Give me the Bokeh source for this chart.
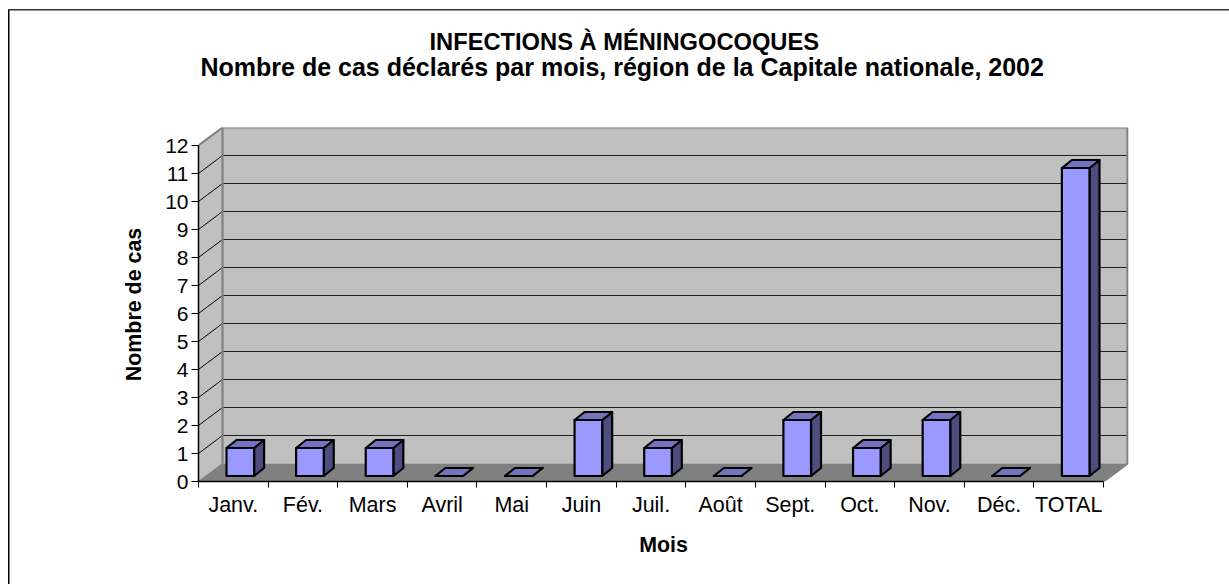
from bokeh.plotting import figure
from bokeh.models import Range1d, FixedTicker, Title, ColumnDataSource
from bokeh.embed import file_html
from bokeh.resources import INLINE

TITLE_LINES = ["INFECTIONS À MÉNINGOCOQUES",
               "Nombre de cas déclarés par mois, région de la Capitale nationale, 2002"]
CATEGORIES = ["Janv.", "Fév.", "Mars", "Avril", "Mai", "Juin", "Juil.", "Août",
              "Sept.", "Oct.", "Nov.", "Déc.", "TOTAL"]
VALUES = [1, 1, 1, 0, 0, 2, 1, 0, 2, 1, 2, 0, 11]
Y_TICKS = list(range(0, 13))

FONT = "Liberation Sans"
N = len(CATEGORIES)
YMAX = Y_TICKS[-1]

# pixel scale of the front plane
PX_X = 905 / N
PX_Y = 28
# oblique depth of the chart box, in data units
DX = 24 / PX_X
DY = 18 / PX_Y
# bar placement in data units
BAR_L = 28 / PX_X
BAR_W = 27.6 / PX_X
BAR_DX = 10 / PX_X
BAR_DY = 8 / PX_Y
BAR_BASE = 5.5 / PX_Y

p = figure(width=1229, height=584, output_backend="svg", toolbar_location=None,
           x_range=Range1d(0, 930 / PX_X), y_range=Range1d(0, 354 / PX_Y),
           frame_width=930, frame_height=354,
           min_border_left=198, min_border_right=101, min_border_top=127, min_border_bottom=103)
p.outline_line_color = None
p.background_fill_color = "white"
p.border_fill_color = None
p.grid.visible = False
# chart-area frame: left and top edges only
p.styles = {"background":
            "linear-gradient(#333,#333) 8px 9px / 100% 1.5px no-repeat,"
            "linear-gradient(#000,#000) 8px 9px / 1.5px 100% no-repeat"}

# chart box
p.patch([0, DX, DX, 0], [0, DY, YMAX + DY, YMAX], fill_color="#c0c0c0", line_color="#808080", line_width=1)
p.patch([DX, N + DX, N + DX, DX], [DY, DY, YMAX + DY, YMAX + DY], fill_color="#c0c0c0", line_color=None)
p.patch([0, N, N + DX, DX], [0, 0, DY, DY], fill_color="#808080", line_color=None)

# gridlines
grid = [v for v in Y_TICKS if 0 < v < YMAX]
p.multi_line([[DX, N + DX] for v in grid], [[v + DY, v + DY] for v in grid], line_color="#202020", line_width=1.2)
p.multi_line([[0, DX] for v in grid], [[v, v + DY] for v in grid], line_color="#000000", line_width=1)
# wall edges
p.line([DX, DX, N + DX, N + DX, N], [DY, YMAX + DY, YMAX + DY, DY, 0], line_color="#808080", line_width=2.2)
p.line([0, DX], [YMAX, YMAX + DY], line_color="#808080", line_width=2)

# bars
lefts = [i + BAR_L for i in range(N)]
front = ColumnDataSource(dict(
    xs=[[l, l + BAR_W, l + BAR_W, l] for l in lefts],
    ys=[[BAR_BASE, BAR_BASE, BAR_BASE + v, BAR_BASE + v] for v in VALUES]))
side = ColumnDataSource(dict(
    xs=[[l + BAR_W, l + BAR_W + BAR_DX, l + BAR_W + BAR_DX, l + BAR_W] for l in lefts],
    ys=[[BAR_BASE, BAR_BASE + BAR_DY, BAR_BASE + BAR_DY + v, BAR_BASE + v] for v in VALUES]))
top = ColumnDataSource(dict(
    xs=[[l, l + BAR_W, l + BAR_W + BAR_DX, l + BAR_DX] for l in lefts],
    ys=[[BAR_BASE + v, BAR_BASE + v, BAR_BASE + v + BAR_DY, BAR_BASE + v + BAR_DY] for v in VALUES]))
p.patches("xs", "ys", source=side, fill_color="#4d4d80", line_color="black", line_width=2.2, line_join="round")
p.patches("xs", "ys", source=front, fill_color="#9999ff", line_color="black", line_width=2.2, line_join="round")
p.patches("xs", "ys", source=top, fill_color="#7373bf", line_color="black", line_width=2.2, line_join="round")

# axes
xa = p.xaxis[0]
xa.bounds = (0, N)
xa.ticker = FixedTicker(ticks=[i + 0.5 for i in range(N)], minor_ticks=list(range(N + 1)))
xa.major_label_overrides = {i + 0.5: c for i, c in enumerate(CATEGORIES)}
xa.major_tick_line_color = None
xa.major_tick_out = 0
xa.major_tick_in = 0
xa.minor_tick_line_color = "black"
xa.minor_tick_out = 6
xa.minor_tick_in = 0
xa.axis_label = "Mois"
xa.axis_label_standoff = 13
xa.major_label_standoff = 5
xa.major_label_text_font_size = "21.5px"

ya = p.yaxis[0]
ya.bounds = (0, YMAX)
ya.ticker = FixedTicker(ticks=Y_TICKS, minor_ticks=[])
ya.major_tick_line_color = "black"
ya.major_tick_out = 7
ya.major_tick_in = 0
ya.axis_label = "Nombre de cas"
ya.axis_label_standoff = 16
ya.major_label_standoff = 3
ya.major_label_text_font_size = "21px"

for a in (xa, ya):
    a.axis_line_color = "black"
    a.axis_line_width = 1.5
    a.major_label_text_font = FONT
    a.major_label_text_color = "black"
    a.axis_label_text_font = FONT
    a.axis_label_text_font_size = "21.4px"
    a.axis_label_text_font_style = "bold"
    a.axis_label_text_color = "black"

# spacer that lifts the two title lines off the chart box
p.add_layout(Title(text=" ", standoff=26, text_font=FONT, text_font_size="21px"), "above")
# title: the first Title added sits lowest
for line, off, st, fs in zip(reversed(TITLE_LINES), (2, 231), (-8, 0), ("25px", "23.7px")):
    p.add_layout(Title(text=line, align="left", offset=off, standoff=st,
                       text_font=FONT, text_font_size=fs, text_font_style="bold",
                       text_color="black"), "above")

open("out.html", "w").write(file_html(p, INLINE))
